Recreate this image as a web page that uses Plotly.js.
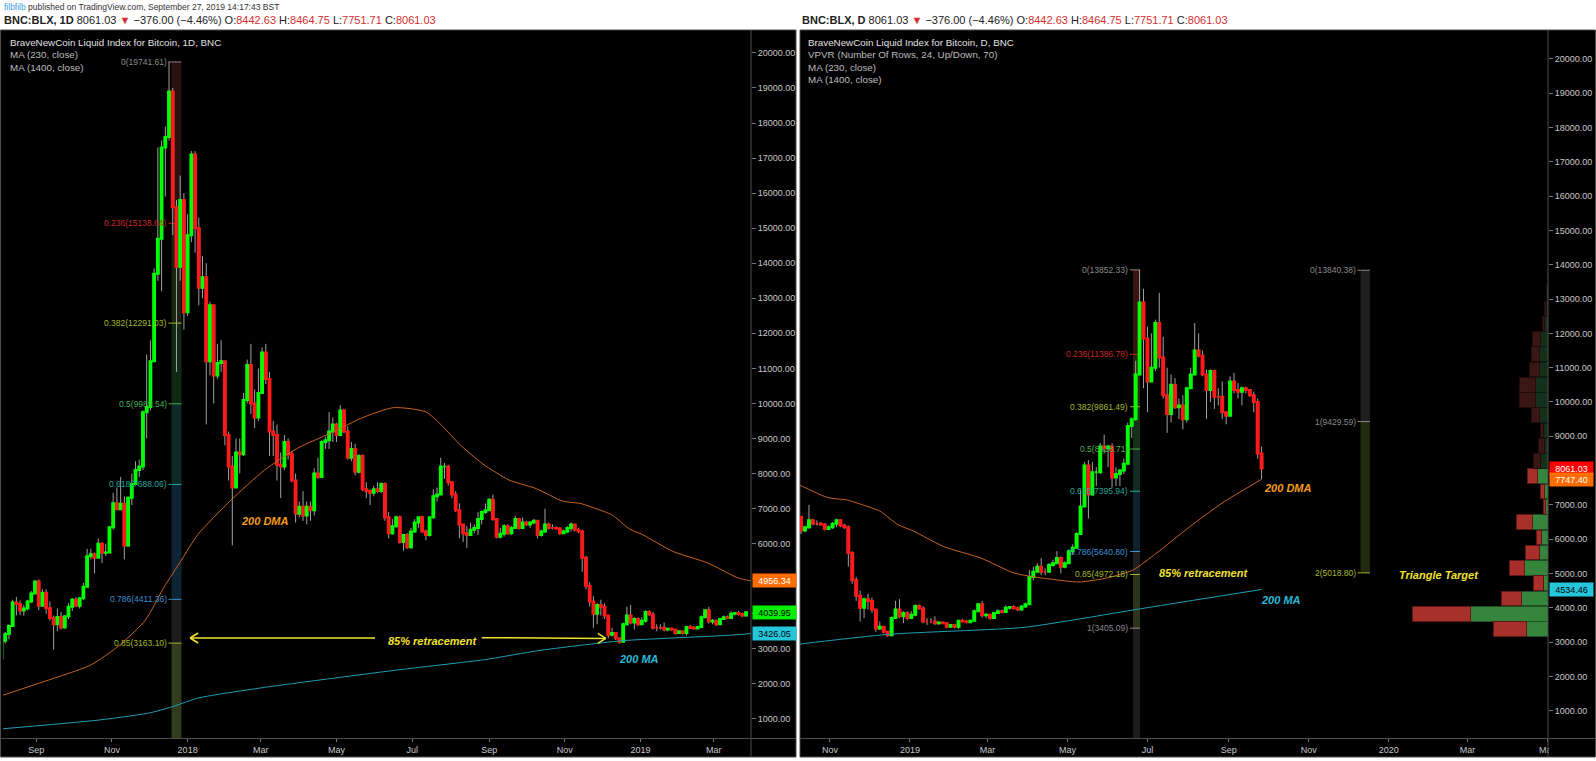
<!DOCTYPE html>
<html><head><meta charset="utf-8">
<script src="https://cdn.plot.ly/plotly-3.0.1.min.js"></script>
<style>html,body{margin:0;padding:0;background:#fff;}#chart{width:1596px;height:761px;}</style>
</head><body><div id="chart"></div>
<script>
// ================= DATA =================
// 3-day candles of BNC:BLX, first candle centred on 2017-08-04
const candleStart = '2017-08-04';
const candleStepDays = 3;
const firstOpen = 2720;
const closes = [3230,3420,3650,4320,4280,4090,4150,4350,4580,4920,
4230,4600,4160,3880,3700,3910,3610,3930,4200,4400,
4230,4440,4770,5640,5700,5600,6000,5740,5750,6470,
7150,6980,7140,5950,7310,7700,8100,8200,9750,9900,
11200,13700,14700,17300,17600,18900,15600,13900,15800,12600,
14800,17100,15000,13300,13600,11200,12800,10800,11150,11200,
9100,8200,7600,8600,8550,10100,11100,10000,9600,10300,
11450,10700,9200,9100,8250,8200,8900,8550,7800,6850,
7050,6800,7050,6950,8000,7900,8900,8950,9200,9400,
9100,9800,9200,8450,8700,8050,8500,7550,7500,7450,
7550,7500,7700,6750,6300,6500,6750,6050,6250,5900,
6350,6600,6750,6350,6250,6750,7350,7400,8200,8200,
7750,7400,6950,6550,6300,6250,6400,6450,6700,6900,
6950,7250,6700,6200,6280,6500,6300,6450,6700,6450,
6600,6550,6600,6650,6250,6350,6550,6450,6450,6430,
6300,6350,6450,6550,6400,6350,5600,4800,4350,4000,
4250,4200,3950,3400,3450,3300,3200,3700,3950,3750,
3850,3700,3800,4050,3980,3600,3600,3600,3550,3570,
3550,3450,3500,3450,3620,3600,3580,3620,3900,4100,
3780,3800,3700,3850,3900,3880,4000,4020,3990,3950,
4039.95,4100,4900,5050,5200,5050,5050,5250,5300,5450,
5200,5300,5650,5750,6150,6950,8150,7300,7950,7950,
8700,8650,8700,7800,7900,8000,8200,9300,9500,10800,
12900,11850,10600,11000,12300,11300,10200,9650,10500,9850,
9900,9500,10400,10800,11500,11350,10800,10350,10900,10150,
10150,9700,9600,10600,10350,10300,10400,10350,10200,10000,
8500,8061.03];
const highs = [3300,3480,3700,4400,4480,4380,4250,4400,4650,4950,
4980,4700,4700,4350,3950,4150,4050,3950,4300,4450,
4470,4470,4880,5850,5850,5750,6150,6050,6000,6500,
7450,7600,7900,7350,7350,8000,8350,8400,9800,11400,
11800,13850,17300,17500,17900,19741.61,19000,15800,16500,16000,
15400,17200,17200,15300,14200,14000,12900,12800,11700,11800,
11200,9200,8500,9000,9000,10300,11250,11700,10400,11000,
11600,11700,10900,9500,9400,8600,9100,9000,8650,8000,
7200,7500,7200,7200,8150,8450,8950,9050,9750,9600,
9450,9950,9850,9350,8900,8850,8550,8550,7750,7550,
7650,7750,7750,7750,6900,6700,6800,6800,6280,6300,
6450,6700,6750,6800,6400,6750,7550,7600,8450,8300,
8250,7750,7500,7150,6550,6500,6600,6550,6900,6950,
7150,7300,7400,6700,6450,6550,6550,6500,6800,6700,
6750,6650,6650,6700,6650,6400,7000,6600,6550,6500,
6470,6400,6500,6600,6550,6450,6400,5650,4900,4500,
4300,4400,4300,3950,3600,3450,3300,3750,4200,4250,
3900,3900,3900,4100,4100,4050,3700,3700,3750,3600,
3600,3550,3520,3500,3650,3680,3650,3650,3950,4120,
4200,3850,3830,3880,3950,3950,4070,4050,4080,4030,
4080,4150,5100,5200,5300,5450,5150,5300,5400,5650,
5500,5350,5700,5850,6200,7450,8250,8300,8250,8100,
8800,9050,8750,8800,8100,8050,8350,9400,9550,11200,
13852.33,13300,12200,12000,12400,13180,11900,11000,10800,10700,
10100,10200,10450,11000,12300,12000,11500,10950,10950,10950,
10400,10600,9700,10750,10850,10550,10450,10450,10350,10300,
10100,8700];
const lows = [2700,3150,3270,3650,3950,3960,3950,4100,4300,4550,
4100,4200,4000,3800,2980,3500,3550,3580,3850,4080,
4200,4150,4400,4750,5550,5150,5600,5450,5650,5750,
6400,6950,6980,5550,5900,7100,7800,7900,8100,9000,
9800,11200,13500,13200,15900,17500,14800,10900,13500,12100,
12500,14600,14300,12800,13000,9400,10800,10000,10700,10900,
8800,7800,5950,7600,8000,8500,10000,9700,9300,9500,
10300,10550,8500,8500,7800,7300,8100,8400,7750,6600,
6750,6650,6550,6650,6800,7850,7900,8700,8700,8900,
8900,9100,9150,8400,8350,7950,8000,7500,7300,7100,
7350,7450,7450,6650,6150,6250,6450,6000,5800,5850,
5850,6300,6450,6300,6100,6200,6700,7200,7400,7850,
7650,7300,6900,6150,6050,5880,6250,6300,6250,6550,
6850,6950,6650,6150,6150,6200,6250,6250,6450,6400,
6450,6500,6450,6550,6150,6200,6300,6400,6400,6400,
6250,6300,6300,6350,6350,6300,5200,4700,4200,3600,
3700,3950,3850,3300,3350,3250,3150,3200,3700,3700,
3550,3650,3700,3750,3950,3550,3500,3550,3500,3500,
3520,3400,3420,3400,3380,3580,3550,3580,3620,3900,
3720,3700,3650,3690,3850,3840,3860,3950,3950,3900,
3920,4000,4100,4800,5050,4950,4950,5050,5200,5280,
5000,5150,5300,5550,5750,6150,6950,6600,7300,7550,
7900,8500,8100,7500,7550,7550,7900,8200,8950,9450,
10800,10400,9700,10600,10900,11000,10100,9100,9400,9800,
9500,9200,9400,10400,10800,11300,10750,9500,10000,9800,
9900,9500,9350,9600,10250,10100,9900,10250,10150,9700,
8350,7751.71];

// Moving averages (date, value)
const ma230Dates = ['2017-08-03','2017-08-30','2017-10-15','2017-11-07','2017-11-28','2017-12-13','2017-12-27','2018-01-09','2018-02-05','2018-03-04','2018-03-31','2018-04-26','2018-05-23','2018-06-16','2018-07-12','2018-07-26','2018-08-08','2018-08-27','2018-09-17','2018-10-09','2018-10-30','2018-11-14','2018-11-26','2018-12-09','2018-12-23','2019-01-03','2019-01-27','2019-02-24','2019-03-20','2019-03-28','2019-04-15','2019-05-10','2019-05-31','2019-06-20','2019-07-08','2019-08-02','2019-08-27','2019-09-26'];
const ma230Vals = [1650,1970,2540,3100,3820,4760,5530,6250,7245,8100,8730,9150,9610,9880,9760,9330,8840,8270,7815,7570,7216,7143,7000,6820,6420,6250,5780,5450,5030,4956.34,4850,4752,4869,5102,5598,6356,7055,7747.40];
const ma1400Dates = ['2017-08-03','2017-10-22','2017-12-01','2017-12-19','2018-01-10','2018-03-04','2018-04-26','2018-06-20','2018-08-30','2018-10-11','2018-12-17','2019-03-28','2019-05-10','2019-06-20','2019-09-26'];
const ma1400Vals = [713,970,1170,1340,1600,1900,2150,2400,2700,2950,3230,3426.05,3673,3936,4534.46];

// Fibonacci retracement (left panel)
const fibLLevels = [0,0.236,0.382,0.5,0.618,0.786,0.85];
const fibLPrices = [19741.61,15138.64,12291.03,9989.54,7688.06,4411.36,3163.10];
const fibLSpan = ['2017-12-19','2017-12-27'];
// Fibonacci retracement (right panel)
const fibRLevels = [0,0.236,0.382,0.5,0.618,0.786,0.85,1];
const fibRPrices = [13852.33,11386.78,9861.49,8628.71,7395.94,5640.80,4972.18,3405.09];
const fibRSpan = ['2019-06-20','2019-06-25 08:00'];
// Trend-based fib extension (right panel)
const fibELevels = [0,1,2];
const fibEPrices = [13840.38,9429.59,5018.80];
const fibESpan = ['2019-12-10 10:00','2019-12-17 12:00'];

// Volume profile rows (VPVR, 24 rows), row mid price, up and down volume
const vpRowMid = [3383,3828,4273,4718,5163,5608,6053,6498,6943,7388,7833,8278,8723,9168,9613,10058,10503,10948,11393,11838,12283,12728,13173,13618];
const vpUp   = [21.1,77.2,26.2,4.4,23.8,8.4,6.7,15.1,2.7,3.4,10.4,7.4,4.0,4.7,8.7,12.8,12.8,8.7,8.1,7.4,3.4,2.0,1.2,0.6];
const vpDown = [33.6,58.4,20.8,10.0,15.1,14.4,4.4,16.1,2.3,4.0,10.4,7.0,5.4,3.3,7.4,15.4,15.4,9.4,8.7,8.0,2.6,1.4,0.8,0.4];
const vpRowStep = 445;
const vpValueAreaRows = 11;

// Axis ticks
const yTickVals = [1000,2000,3000,4000,5000,6000,7000,8000,9000,10000,11000,12000,13000,14000,15000,16000,17000,18000,19000,20000];
const yTickText = yTickVals.map(v => v.toFixed(2));
const leftXTicks = ['2017-09-01','2017-11-01','2018-01-01','2018-03-01','2018-05-01','2018-07-01','2018-09-01','2018-11-01','2019-01-01','2019-03-01'];
const leftXText = ['Sep','Nov','2018','Mar','May','Jul','Sep','Nov','2019','Mar'];
const rightXTicks = ['2018-11-01','2019-01-01','2019-03-01','2019-05-01','2019-07-01','2019-09-01','2019-11-01','2020-01-01','2020-03-01','2020-05-01'];
const rightXText = ['Nov','2019','Mar','May','Jul','Sep','Nov','2020','Mar','May'];

// Last-value labels on price scales
const leftLastVals = [4956.34, 4039.95, 3426.05];
const rightLastVals = [8061.03, 7747.40, 4534.46];

// Header quote
const quote = {last:'8061.03', chg:'−376.00', pct:'−4.46%', o:'8442.63', h:'8464.75', l:'7751.71', c:'8061.03'};

// ================= BUILD =================
const W = 1596, H = 761;
const px = x => x / W;
const py = y => 1 - y / H;
const SANS = '"Liberation Sans", Arial, sans-serif';

function addDays(iso, n) { const d = new Date(iso + 'T00:00:00Z'); d.setUTCDate(d.getUTCDate() + n); return d.toISOString().slice(0, 10); }
const dates = closes.map((_, i) => addDays(candleStart, i * candleStepDays));
const opens = closes.map((_, i) => i === 0 ? firstOpen : closes[i - 1]);

function subset(pred) {
  const o = {x: [], o: [], h: [], l: [], c: []};
  dates.forEach((d, i) => { if (pred(d)) { o.x.push(d); o.o.push(opens[i]); o.h.push(highs[i]); o.l.push(lows[i]); o.c.push(closes[i]); } });
  return o;
}
const L = subset(d => d <= '2019-03-28');
const R = subset(d => d >= '2018-10-06');

const UP = '#00ff00', DN = '#ff1a1a', WICK = '#a0a0a0';
function candleTraces(s, xa, ya) {
  const wick = {type: 'candlestick', x: s.x, open: s.o, high: s.h, low: s.l, close: s.c, xaxis: xa, yaxis: ya,
    increasing: {line: {color: WICK, width: 1}, fillcolor: WICK}, decreasing: {line: {color: WICK, width: 1}, fillcolor: WICK},
    whiskerwidth: 0, hoverinfo: 'skip', showlegend: false};
  const bh = s.o.map((o, i) => Math.max(o, s.c[i]));
  const bl = s.o.map((o, i) => Math.min(o, s.c[i]));
  const body = {type: 'candlestick', x: s.x, open: s.o, high: bh, low: bl, close: s.c, xaxis: xa, yaxis: ya,
    increasing: {line: {color: UP, width: 2}, fillcolor: UP}, decreasing: {line: {color: DN, width: 2}, fillcolor: DN},
    whiskerwidth: 0, hoverinfo: 'skip', showlegend: false};
  return [wick, body];
}
const ORANGE_LINE = '#c8641e', CYAN_LINE = '#1e9fb4';
function maTraces(xa, ya) {
  return [
    {type: 'scatter', mode: 'lines', x: ma230Dates, y: ma230Vals, xaxis: xa, yaxis: ya, line: {color: ORANGE_LINE, width: 1, shape: 'spline', smoothing: 0.6}, hoverinfo: 'skip', showlegend: false},
    {type: 'scatter', mode: 'lines', x: ma1400Dates, y: ma1400Vals, xaxis: xa, yaxis: ya, line: {color: CYAN_LINE, width: 1, shape: 'spline', smoothing: 0.6}, hoverinfo: 'skip', showlegend: false}
  ];
}
const vpColsUp = vpRowMid.map((_, i) => i < vpValueAreaRows ? '#35853c' : '#14301a');
const vpColsDn = vpRowMid.map((_, i) => i < vpValueAreaRows ? '#a8302a' : '#3a1614');
const vpLineUp = vpRowMid.map((_, i) => i < vpValueAreaRows ? '#1d4f22' : '#0b1d0e');
const vpLineDn = vpRowMid.map((_, i) => i < vpValueAreaRows ? '#5e1714' : '#220c0b');
const vpTraces = [
  {type: 'bar', orientation: 'h', y: vpRowMid, x: vpUp, width: vpRowStep * 0.96, xaxis: 'x3', yaxis: 'y2',
   marker: {color: vpColsUp, line: {color: vpLineUp, width: 1}}, hoverinfo: 'skip', showlegend: false},
  {type: 'bar', orientation: 'h', y: vpRowMid, x: vpDown, width: vpRowStep * 0.96, xaxis: 'x3', yaxis: 'y2',
   marker: {color: vpColsDn, line: {color: vpLineDn, width: 1}}, hoverinfo: 'skip', showlegend: false}
];

const data = [].concat(maTraces('x', 'y'), candleTraces(L, 'x', 'y'), maTraces('x2', 'y2'), candleTraces(R, 'x2', 'y2'), vpTraces);

// ---- shapes ----
const shapes = [];
const GRAY = '#4d4d4d';
shapes.push({type: 'rect', xref: 'paper', yref: 'paper', x0: px(0.5), x1: px(796), y0: py(757), y1: py(30), fillcolor: '#000', line: {color: GRAY, width: 1}, layer: 'below'});
shapes.push({type: 'rect', xref: 'paper', yref: 'paper', x0: px(800), x1: px(1595.5), y0: py(757), y1: py(30), fillcolor: '#000', line: {color: GRAY, width: 1}, layer: 'below'});
shapes.push({type: 'rect', xref: 'paper', yref: 'paper', x0: px(1549), x1: px(1595), y0: py(756), y1: py(739), fillcolor: '#000', line: {width: 0}, layer: 'above'});
[[751, 0.5, 796], [1548, 800, 1595.5]].forEach(([ax, l, r]) => {
  shapes.push({type: 'line', xref: 'paper', yref: 'paper', x0: px(ax), x1: px(ax), y0: py(757), y1: py(30), line: {color: GRAY, width: 1}, layer: 'above'});
  shapes.push({type: 'line', xref: 'paper', yref: 'paper', x0: px(l), x1: px(r), y0: py(738.5), y1: py(738.5), line: {color: GRAY, width: 1}, layer: 'above'});
});

const annotations = [];
function fib(levels, prices, span, xa, ya, fills, lineCols, bottomFill) {
  for (let i = 0; i < levels.length - 1; i++) {
    shapes.push({type: 'rect', xref: xa, yref: ya, x0: span[0], x1: span[1], y0: prices[i + 1], y1: prices[i], fillcolor: fills[i], line: {width: 0}, layer: 'between'});
  }
  if (bottomFill) shapes.push({type: 'rect', xref: xa, yref: ya, x0: span[0], x1: span[1], y0: 0, y1: prices[prices.length - 1], fillcolor: bottomFill, line: {width: 0}, layer: 'between'});
  levels.forEach((lv, i) => {
    shapes.push({type: 'line', xref: xa, yref: ya, x0: span[0], x1: span[1], y0: prices[i], y1: prices[i], line: {color: lineCols[i], width: 1}, layer: 'between'});
    shapes.push({type: 'line', xref: xa, yref: ya, xsizemode: 'pixel', xanchor: span[0], x0: -3, x1: 0, y0: prices[i], y1: prices[i], line: {color: lineCols[i], width: 1}, layer: 'between'});
    annotations.push({xref: xa, yref: ya, x: span[0], y: prices[i], xanchor: 'right', yanchor: 'middle', xshift: -3, showarrow: false,
      text: lv + '(' + prices[i].toFixed(2) + ')', font: {family: SANS, size: 8.5, color: lineCols[i]}});
  });
}
const C0 = '#8a8a8a', C236 = '#c62828', C382 = '#a3b82a', C5 = '#4caf50', C618 = '#26a69a', C786 = '#3b8fd0', C85 = '#a3b82a';
fib(fibLLevels, fibLPrices, fibLSpan, 'x', 'y',
  ['#2a1111', '#1c2311', '#0f2a13', '#0d2a28', '#0c2434', '#1c1c1c'], [C0, C236, C382, C5, C618, C786, C85], '#323c1d');
fib(fibRLevels, fibRPrices, fibRSpan, 'x2', 'y2',
  ['#35170f', '#2a2610', '#15301a', '#0f2b22', '#0e2230', '#1f1f1f', '#2c3418'], [C0, C236, C382, C5, C618, C786, C85, C0], '#1c1c1c');
fib(fibELevels, fibEPrices, fibESpan, 'x2', 'y2',
  ['#1f1f1f', '#22290c'], [C0, C0, C85], null);

// arrows (left panel)
const YEL = '#f2e02e';
function arrow(xa, ya, from, to, dir) {
  shapes.push({type: 'line', xref: xa, yref: ya, x0: from[0], y0: from[1], x1: to[0], y1: to[1], line: {color: YEL, width: 1.5}, layer: 'above'});
  [-5, 5].forEach(dy => shapes.push({type: 'line', xref: xa, yref: ya, xsizemode: 'pixel', ysizemode: 'pixel', xanchor: to[0], yanchor: to[1], x0: 0, y0: 0, x1: 8 * dir, y1: dy, line: {color: YEL, width: 1.5}, layer: 'above'}));
}
arrow('x', 'y', ['2018-06-01', 3309], ['2018-01-03', 3309], 1);
arrow('x', 'y', ['2018-08-26', 3317], ['2018-12-04', 3297], -1);

// chart text labels
function label(xa, ya, x, y, text, color) {
  annotations.push({xref: xa, yref: ya, x: x, y: y, text: '<b><i>' + text + '</i></b>', showarrow: false, xanchor: 'center', yanchor: 'middle', font: {family: SANS, size: 11, color: color}});
}
const ORANGE_TXT = '#f59b1c', CYAN_TXT = '#29b8d8';
label('x', 'y', '2018-03-04', 6646, '200 DMA', ORANGE_TXT);
label('x', 'y', '2018-07-17', 3223, '85% retracement', YEL);
label('x', 'y', '2018-12-31', 2710, '200 MA', CYAN_TXT);
label('x2', 'y2', '2019-10-16', 7493, '200 DMA', ORANGE_TXT);
label('x2', 'y2', '2019-08-13', 5015, '85% retracement', YEL);
label('x2', 'y2', '2019-10-11', 4227, '200 MA', CYAN_TXT);
label('x2', 'y2', '2020-02-08', 4942, 'Triangle Target', YEL);

// last value boxes
function box(xPix, ya, v, bg, fg) {
  annotations.push({xref: 'paper', yref: ya, x: px(xPix), y: v, xanchor: 'left', yanchor: 'middle', showarrow: false,
    text: v.toFixed(2), bgcolor: bg, borderpad: 1.5, width: 40, align: 'center', font: {family: SANS, size: 9, color: fg}});
}
box(752, 'y', leftLastVals[0], '#ff6d00', '#ffffff');
box(752, 'y', leftLastVals[1], '#00f000', '#000000');
box(752, 'y', leftLastVals[2], '#26c6da', '#000000');
box(1549, 'y2', rightLastVals[0], '#ff0000', '#ffffff');
box(1549, 'y2', rightLastVals[1], '#ff6d00', '#ffffff');
box(1549, 'y2', rightLastVals[2], '#26c6da', '#000000');

// header
function txt(xPix, yPix, text, size, color) {
  annotations.push({xref: 'paper', yref: 'paper', x: px(xPix), y: py(yPix), xanchor: 'left', yanchor: 'middle', showarrow: false, text: text, font: {family: SANS, size: size, color: color}});
}
const RED = '#d32f2f';
const q = '<span style="color:' + RED + '">';
const quoteText = ' ' + quote.last + ' ' + q + '▼</span> ' + quote.chg + ' (' + quote.pct + ') O:' + q + quote.o + '</span> H:' + q + quote.h + '</span> L:' + q + quote.l + '</span> C:' + q + quote.c + '</span>';
txt(2, 7, '<span style="color:#3a9ee4">filbfilb</span> published on TradingView.com, September 27, 2019 14:17:43 BST', 8.5, '#333333');
txt(2, 20, '<b>BNC:BLX, 1D</b>' + quoteText, 11, '#222222');
txt(800, 20, '<b>BNC:BLX, D</b>' + quoteText, 11, '#222222');
const LEG1 = '#e0e0e0', LEG2 = '#bdbdbd';
txt(8, 43, 'BraveNewCoin Liquid Index for Bitcoin, 1D, BNC', 9.8, LEG1);
txt(8, 55, 'MA (230, close)', 9.8, LEG2);
txt(8, 67, 'MA (1400, close)', 9.8, LEG2);
txt(806, 43, 'BraveNewCoin Liquid Index for Bitcoin, D, BNC', 9.8, LEG1);
txt(806, 55, 'VPVR (Number Of Rows, 24, Up/Down, 70)', 9.8, LEG2);
txt(806, 67, 'MA (230, close)', 9.8, LEG2);
txt(806, 79, 'MA (1400, close)', 9.8, LEG2);

const tickFont = {family: SANS, size: 9, color: '#c8c8c8'};
const yBase = {type: 'linear', side: 'right', showgrid: false, zeroline: false, showline: false, ticks: 'outside', ticklen: 4, tickcolor: '#777',
  tickvals: yTickVals, ticktext: yTickText, tickfont: tickFont, fixedrange: true, domain: [py(738), py(30)]};
const xBase = {type: 'date', showgrid: false, zeroline: false, showline: false, ticks: 'outside', ticklen: 3, tickcolor: '#777',
  tickfont: tickFont, rangeslider: {visible: false}, fixedrange: true};

const layout = {
  width: W, height: H, margin: {l: 0, r: 0, t: 0, b: 0},
  paper_bgcolor: '#ffffff', plot_bgcolor: '#000000', showlegend: false, barmode: 'stack', bargap: 0,
  xaxis: Object.assign({}, xBase, {domain: [px(3), px(751)], anchor: 'y', range: ['2017-08-05 05:00', '2019-03-31 00:00'], tickvals: leftXTicks, ticktext: leftXText}),
  yaxis: Object.assign({}, yBase, {anchor: 'x', range: [456, 20653]}),
  xaxis2: Object.assign({}, xBase, {domain: [px(800), px(1548)], anchor: 'y2', range: ['2018-10-09 04:00', '2020-05-01 07:00'], tickvals: rightXTicks, ticktext: rightXText}),
  yaxis2: Object.assign({}, yBase, {anchor: 'x2', range: [204, 20845]}),
  xaxis3: {overlaying: 'x2', anchor: 'y2', range: [748, 0], visible: false, fixedrange: true},
  shapes: shapes, annotations: annotations
};
Plotly.newPlot('chart', data, layout, {displayModeBar: false, staticPlot: true});
</script>
</body></html>
